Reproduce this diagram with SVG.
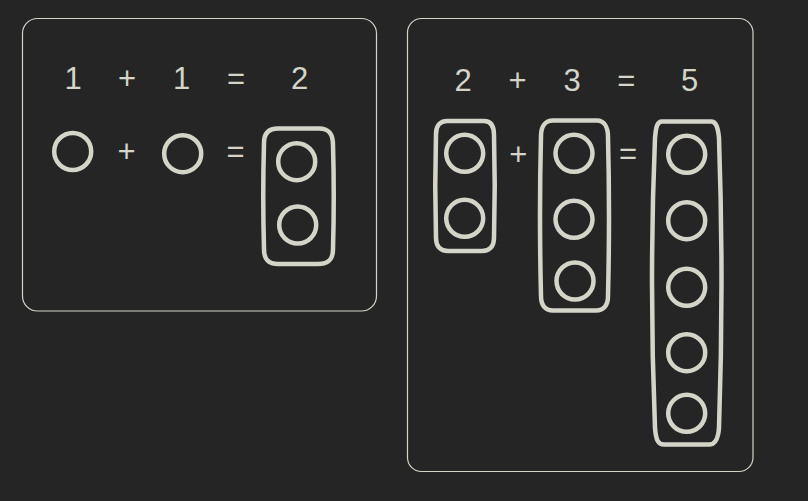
<svg xmlns="http://www.w3.org/2000/svg" width="808" height="501" viewBox="0 0 808 501">
<style>
.frame{fill:none;stroke:#d4d4c9;stroke-width:1.2}
.sh{fill:none;stroke:#d4d4c9;stroke-width:4.5;stroke-linejoin:round;stroke-linecap:round}
.t{font-family:"Liberation Sans",Arial,sans-serif;font-size:31px;fill:#d4d4c9;text-anchor:middle}
</style>
<rect width="808" height="501" fill="#252525"/>
<g id="frame-left">
<rect class="frame" x="22.5" y="18.5" width="354" height="292.5" rx="15"/>
<text class="t" x="73" y="88.5">1</text>
<text class="t" x="127" y="88.5">+</text>
<text class="t" x="181.5" y="88.5">1</text>
<text class="t" x="236" y="88.5">=</text>
<text class="t" x="299.5" y="88.5">2</text>
<circle class="sh" cx="72.7" cy="151.5" r="18.5"/>
<text class="t" x="126.5" y="161.5">+</text>
<circle class="sh" cx="182.7" cy="153.7" r="18.5"/>
<text class="t" x="235.5" y="162">=</text>
<path class="sh" d="M278,128.5 L319,128.5 C329,128.5 333,134 333,145 Q334.5,196 333,249 C333,259 329,264 318,264 L278,264 C268,264 264,259 264,249 Q262.5,196 264,143 C264,134 268,128.5 278,128.5 Z"/>
<circle class="sh" cx="296.7" cy="161.7" r="18.5"/>
<circle class="sh" cx="297.7" cy="225" r="18.5"/>
</g>
<g id="frame-right">
<rect class="frame" x="407.5" y="18.5" width="345.5" height="453" rx="14"/>
<text class="t" x="463" y="91">2</text>
<text class="t" x="517.5" y="91">+</text>
<text class="t" x="572" y="91">3</text>
<text class="t" x="626.3" y="91">=</text>
<text class="t" x="689.5" y="91">5</text>
<path class="sh" d="M447,121 L484,121 C491,121 494,126 494,135 Q495.5,186 494,238 C494,246 490,251 482,251 L448,251 C440,251 436,246 436,238 Q434.5,186 436,134 C436,126 440,121 447,121 Z"/>
<circle class="sh" cx="464.7" cy="153.3" r="18.5"/>
<circle class="sh" cx="464.7" cy="218.3" r="18.5"/>
<text class="t" x="518.3" y="164.5">+</text>
<path class="sh" d="M553,120.5 L597,120.5 C604,120.5 608,127 608,137 Q610,215 608,296 C608,305 604,310.5 596,310.5 L553,310.5 C545,310.5 541,305 541,296 Q539,215 541,136 C541,127 545,120.5 553,120.5 Z"/>
<circle class="sh" cx="574" cy="153.3" r="18.5"/>
<circle class="sh" cx="574" cy="219.3" r="18.5"/>
<circle class="sh" cx="575" cy="281" r="18.5"/>
<text class="t" x="628" y="164">=</text>
<path class="sh" d="M662,121.5 L711,121.5 C716,121.5 718,127 719,138 Q724,283 719,428 C718,440 715,444.5 709,444.5 L664,444.5 C658,444.5 656,440 655,428 Q649,283 655,138 C656,127 657,121.5 662,121.5 Z"/>
<circle class="sh" cx="686.7" cy="154.3" r="18.5"/>
<circle class="sh" cx="686.7" cy="220.7" r="18.5"/>
<circle class="sh" cx="686.7" cy="287.3" r="18.5"/>
<circle class="sh" cx="686.7" cy="352.7" r="18.5"/>
<circle class="sh" cx="686.7" cy="413.3" r="18.5"/>
</g>
</svg>
